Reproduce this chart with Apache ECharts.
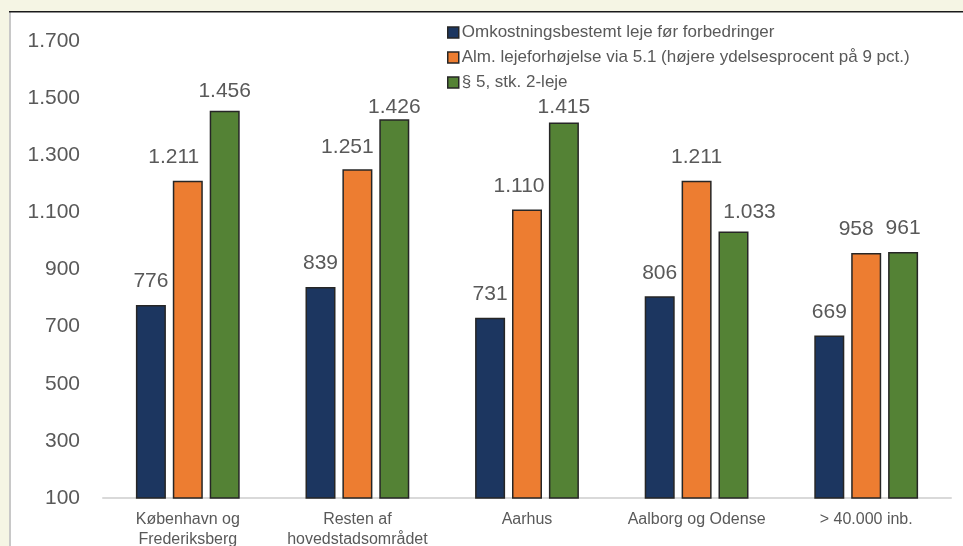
<!DOCTYPE html>
<html>
<head>
<meta charset="utf-8">
<script src="https://cdn.jsdelivr.net/npm/echarts@6/dist/echarts.min.js"></script>
<style>
html,body{margin:0;padding:0;background:#f5f5e4;}
#chart{width:963px;height:546px;}
</style>
</head>
<body>
<div id="chart"></div>
<script>
const categories = ['København og\nFrederiksberg', 'Resten af\nhovedstadsområdet', 'Aarhus', 'Aalborg og Odense', '> 40.000 inb.'];
const seriesNames = [
  'Omkostningsbestemt leje før forbedringer',
  'Alm. lejeforhøjelse via 5.1 (højere ydelsesprocent på 9 pct.)',
  '§ 5, stk. 2-leje'
];
const costBased = [776, 839, 731, 806, 669];
const generalIncrease = [1211, 1251, 1110, 1211, 958];
const section5 = [1456, 1426, 1415, 1033, 961];
const colors = ['#1c3660', '#ed7d31', '#548235'];
// label layout nudges (layout only), per series/category
const labelDist = [
  [13, 13, 13, 13, 13],
  [13, 12, 13, 13, 13],
  [9, 2, 5, 9, 13]
];
const labelDx = [
  [0, 0, 0, 0, 0],
  [-14, -10, -8, 0, -10],
  [0, 0, 0, 16, 0]
];

const fmt = v => {
  const s = String(Math.round(v));
  return s.replace(/\B(?=(\d{3})+(?!\d))/g, '.');
};

const chart = echarts.init(document.getElementById('chart'));
const mk = (idx, data) => ({
  name: seriesNames[idx], type: 'bar',
  data: data.map((v, i) => ({ value: v, label: { distance: labelDist[idx][i], offset: [labelDx[idx][i], 0] } })),
  barWidth: 30, barGap: '23%',
  itemStyle: { color: colors[idx], borderColor: '#262626', borderWidth: 1.5 },
  label: {
    show: true, position: 'top',
    color: '#595959', fontSize: 21, fontFamily: 'Liberation Sans',
    formatter: p => fmt(p.value)
  }
});
chart.setOption({
  backgroundColor: '#f5f5e4',
  animation: false,
  graphic: [
    { type: 'rect', shape: { x: 9, y: 11, width: 960, height: 540 }, style: { fill: '#ffffff' }, z: -10 },
    { type: 'rect', shape: { x: 9, y: 12, width: 2, height: 540 }, style: { fill: '#c8c8c8' }, z: -9 },
    { type: 'rect', shape: { x: 9, y: 11, width: 960, height: 1.5 }, style: { fill: '#1a1a1a' }, z: -9 }
  ],
  legend: {
    orient: 'vertical', left: 442, top: 19,
    itemWidth: 11, itemHeight: 11, itemGap: 8,
    icon: 'rect',
    textStyle: { color: '#595959', fontSize: 17, fontFamily: 'Liberation Sans', padding: [0, 0, 0, -2] },
    itemStyle: { borderColor: '#262626', borderWidth: 1.5 },
    data: seriesNames
  },
  grid: { left: 103, right: 12, top: 41, bottom: 48, containLabel: false, outerBoundsMode: 'none' },
  xAxis: {
    type: 'category', data: categories,
    axisLine: { lineStyle: { color: '#d9d9d9', width: 2 } },
    axisTick: { show: false },
    axisLabel: { color: '#595959', fontSize: 16, fontFamily: 'Liberation Sans', margin: 12, lineHeight: 20, interval: 0 }
  },
  yAxis: {
    type: 'value', min: 100, max: 1700, interval: 200,
    splitLine: { show: false },
    axisLine: { show: false }, axisTick: { show: false },
    axisLabel: { color: '#595959', fontSize: 21, fontFamily: 'Liberation Sans', margin: 23, formatter: v => fmt(v) }
  },
  series: [
    mk(0, costBased),
    mk(1, generalIncrease),
    mk(2, section5)
  ]
});
</script>
</body>
</html>
